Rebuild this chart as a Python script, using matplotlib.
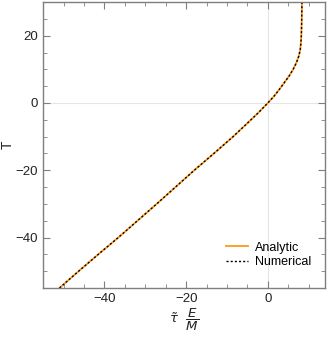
import matplotlib
matplotlib.use("Agg")
import matplotlib.pyplot as plt
from matplotlib.ticker import MultipleLocator

# values: T on the vertical axis, tau*E/M on the horizontal
T_vals = [-55, -50, -45, -40, -35, -30, -25, -20, -15, -10, -6, -3, 0,
          2, 4, 6, 8, 10, 12, 14, 16, 18, 20, 25, 30]
tau_vals = [-51.0, -46.3, -41.5, -36.6, -31.9, -27.2, -22.6, -18.0, -13.2, -8.5,
            -5.0, -2.4, 0.0, 1.5, 2.8, 4.0, 5.2, 6.2, 7.0, 7.6, 7.95, 8.1, 8.2,
            8.3, 8.35]

plt.rcParams['font.family'] = ['Liberation Sans', 'DejaVu Sans']
plt.rcParams['mathtext.fontset'] = 'dejavusans'

fig = plt.figure(figsize=(3.32, 3.42), dpi=100)
ax = fig.add_axes([0.13, 0.158, 0.849, 0.836])

frame = '#7f7f7f'
ax.axvline(0, color='#e6e6e6', lw=0.8, zorder=0)
ax.axhline(0, color='#e6e6e6', lw=0.8, zorder=0)

ax.plot(tau_vals, T_vals, color='#ff9a1a', lw=1.3, label='Analytic')
ax.plot(tau_vals, T_vals, color='black', lw=1.0, ls=(0, (1.5, 1.5)), label='Numerical')

ax.set_xlim(-55, 14)
ax.set_ylim(-55, 30)
ax.xaxis.set_major_locator(MultipleLocator(20))
ax.xaxis.set_minor_locator(MultipleLocator(5))
ax.yaxis.set_major_locator(MultipleLocator(20))
ax.yaxis.set_minor_locator(MultipleLocator(5))
ax.tick_params(which='both', direction='in', top=True, right=True, color=frame,
               labelsize=9.5, labelcolor='#222222')
ax.tick_params(which='major', length=5, width=0.8)
ax.tick_params(which='minor', length=3, width=0.6)
for s in ax.spines.values():
    s.set_color(frame)
    s.set_linewidth(1.0)

ax.set_ylabel('T', fontsize=10, color='#222222', va='center')
ax.yaxis.set_label_coords(-0.125, 0.5)
ax.set_xlabel(r'$\tilde{\tau}\ \ \dfrac{E}{M}$', fontsize=9.5, color='#222222', labelpad=1)
ax.xaxis.set_label_coords(0.5, -0.065)
ax.xaxis.label.set_va('top')

ax.legend(loc='lower right', bbox_to_anchor=(0.99, 0.03), frameon=False,
          fontsize=9, handlelength=1.8, handletextpad=0.5, labelspacing=0.2)

fig.savefig('out.png', dpi=100)
